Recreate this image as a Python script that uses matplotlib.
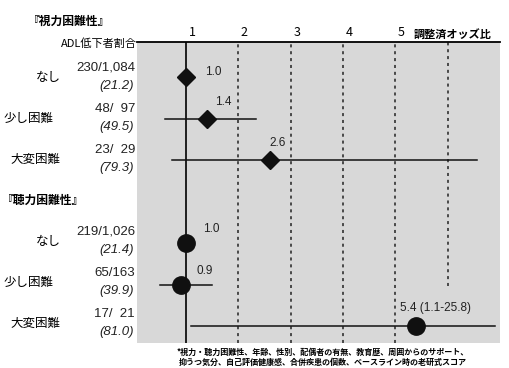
import matplotlib.pyplot as plt
from matplotlib.transforms import ScaledTranslation

plt.rcParams['font.family'] = ['Noto Sans CJK JP', 'DejaVu Sans']

# 視力困難性 / 聴力困難性 : ADL低下者割合 と 調整済オッズ比
groups = ['『視力困難性』', '『聴力困難性』']
levels = ['なし', '少し困難', '大変困難']
counts = [['230/1,084', '48/  97', '23/  29'],
          ['219/1,026', '65/163', '17/  21']]
pcts = [['(21.2)', '(49.5)', '(79.3)'],
        ['(21.4)', '(39.9)', '(81.0)']]
odds = [[1.0, 1.4, 2.6],
        [1.0, 0.9, 5.4]]
ci_low = [[None, 0.6, 0.73],
          [None, 0.5, 1.1]]
ci_high = [[None, 2.33, 6.56],
           [None, 1.5, 25.8]]
odds_labels = [['1.0', '1.4', '2.6'],
               ['1.0', '0.9', '5.4 (1.1-25.8)']]
ticks = [1, 2, 3, 4, 5]
note = ['*視力・聴力困難性、年齢、性別、配偶者の有無、教育歴、周囲からのサポート、',
        '抑うつ気分、自己評価健康感、合併疾患の個数、ベースライン時の老研式スコア']

fig = plt.figure(figsize=(5.09, 3.68), dpi=100)
ax = fig.add_axes([137 / 509, 25 / 368, 363 / 509, 301 / 368])
ax.set_facecolor('#d8d8d8')
xmax = 7.0
ax.set_xlim(0.06, xmax)
ax.set_ylim(6.4, -0.85)
for s in ['right', 'bottom', 'left']:
    ax.spines[s].set_visible(False)
ax.spines['top'].set_linewidth(1.3)
ax.set_yticks([])
ax.xaxis.tick_top()
ax.set_xticks(ticks)
ax.tick_params(axis='x', length=0, pad=2, labelsize=9)
for lbl in ax.get_xticklabels():
    lbl.set_transform(lbl.get_transform() + ScaledTranslation(0.06, 0, fig.dpi_scale_trans))

# 基準線と目盛線
ax.axvline(1, color='#111111', lw=1.3, zorder=2)
for v in [2, 3, 4, 5]:
    ax.axvline(v, color='#222222', lw=1.1, ls=(0, (2, 2.5)), zorder=1)
ax.axvline(6, ymin=0.19, color='#222222', lw=1.1, ls=(0, (2, 2.5)), zorder=1)

markers = ['D', 'o']
msizes = [9, 12.5]
label_dx = [[0.36, 0.15, 0.0], [0.33, 0.29, -0.32]]
label_dy = [[-0.12, -0.4, -0.42], [-0.34, -0.34, -0.44]]
for g in range(2):
    for i in range(3):
        row = g * 4 + i
        if ci_low[g][i] is not None:
            ax.plot([ci_low[g][i], min(ci_high[g][i], 6.9)], [row, row],
                    color='#111111', lw=1.1, zorder=3)
        ax.plot(odds[g][i], row, marker=markers[g], ms=msizes[g],
                color='#101010', zorder=4)
        ax.text(odds[g][i] + label_dx[g][i], row + label_dy[g][i],
                odds_labels[g][i], fontsize=8.5, color='#222222',
                family='Liberation Sans', ha='left', va='center')

ax.text(5.35, -0.85, '調整済オッズ比', fontsize=8, fontweight='bold',
        ha='left', va='bottom', clip_on=False)

# 左側のラベル
to_fx = lambda px: px / 509
to_fy = lambda py: 1 - py / 368
fig.text(to_fx(28), to_fy(21), groups[0], fontsize=8.5, fontweight='bold',
         va='center')
fig.text(to_fx(137), to_fy(44), 'ADL低下者割合', fontsize=8, ha='right',
         va='center')
fig.text(to_fx(2), to_fy(200), groups[1], fontsize=8.5, fontweight='bold',
         va='center')
for g in range(2):
    for i in range(3):
        row = g * 4 + i
        yc = 77 + 41 * row
        name_x = 36 if i == 0 else 4 if i == 1 else 10
        fig.text(to_fx(name_x), to_fy(yc), levels[i], fontsize=9, va='center')
        fig.text(to_fx(135), to_fy(yc - 9), counts[g][i], fontsize=9.5,
                 family='Liberation Sans', ha='right', va='center',
                 color='#222222')
        fig.text(to_fx(134), to_fy(yc + 9), pcts[g][i], fontsize=9.5,
                 family='Liberation Sans', ha='right', va='center',
                 style='italic', color='#222222')

fig.text(to_fx(323), to_fy(352), note[0], fontsize=5.8, fontweight='bold',
         ha='center', va='center')
fig.text(to_fx(323), to_fy(362), note[1], fontsize=5.8, fontweight='bold',
         ha='center', va='center')

fig.savefig('out.png', dpi=100)
